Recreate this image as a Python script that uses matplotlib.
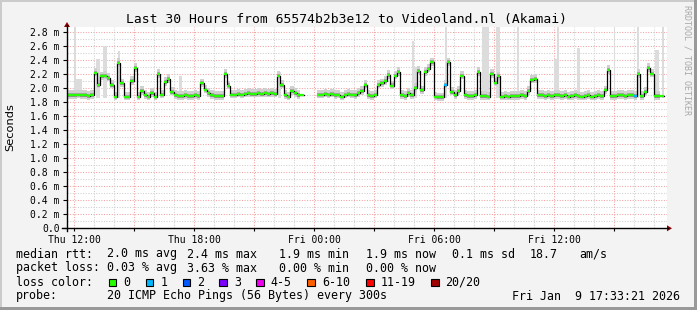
import matplotlib
matplotlib.use('Agg')
import matplotlib.pyplot as plt
import numpy as np
from matplotlib.lines import Line2D
from matplotlib.patches import Rectangle, Polygon

W, H = 697, 310
nan = float('nan')

# median rtt in ms, one value per 10 minutes, 30 hours
step_min = 10
median = [
    1.90, 1.90, 1.90, 1.91, 1.90, 1.90, 1.89, 1.90, 2.22, 2.05,
    2.17, 2.18, 2.15, 2.05, 1.88, 2.36, 2.07, 1.88, 1.88, 2.10,
    2.29, 1.88, 1.96, 1.90, 1.88, 1.93, 1.88, 2.20, 1.91, 2.09,
    2.13, 1.95, 1.90, 1.89, 1.89, 1.90, 1.89, 1.89, 1.90, 1.89,
    2.07, 1.98, 1.93, 1.90, 1.89, 1.89, 1.89, 2.20, 2.04, 1.91,
    1.91, 1.92, 1.91, 1.92, 1.93, 1.92, 1.92, 1.93, 1.92, 1.93,
    1.92, 1.93, 1.92, 2.18, 2.05, 1.90, 1.88, 1.96, 1.93, 1.90,
    1.90, nan, nan, nan, nan, 1.91, 1.91, 1.92, 1.91, 1.92,
    1.90, 1.91, 1.88, 1.91, 1.92, 1.91, 1.90, 1.93, 1.96, 2.05,
    1.90, 1.89, 1.91, 2.05, 2.07, 2.10, 2.19, 2.04, 2.18, 2.23,
    1.90, 1.89, 1.93, 1.90, 2.00, 2.25, 1.97, 2.23, 2.28, 2.37,
    1.88, 1.87, 1.87, 2.05, 2.37, 1.95, 1.90, 1.96, 2.18, 1.90,
    1.89, 1.89, 1.90, 2.23, 1.89, 1.89, 1.88, 2.20, 2.08, 2.17,
    1.88, 1.89, 1.88, 1.89, 1.89, 1.89, 1.90, 1.89, 1.96, 2.12,
    2.13, 1.90, 1.90, 1.89, 1.90, 1.89, 1.90, 1.90, 1.89, 1.90,
    1.88, 1.89, 1.90, 1.89, 1.88, 1.89, 1.90, 1.88, 1.89, 1.90,
    1.89, 1.97, 2.26, 1.89, 1.89, 1.90, 1.90, 1.89, 1.90, 1.90,
    1.89, 2.20, 1.89, 1.95, 2.29, 2.21, 1.89, 1.89, 1.89, nan,
]
# steps with packet loss (number of lost pings out of 20)
loss_steps = [113, 170]
loss_counts = [1, 1]

# tall light grey smoke (slowest ping) spikes: minutes from start, top in ms
peak_start = [20, 28, 88, 108, 153, 335, 632, 1035, 1035, 1133, 1245, 1288,
              1350, 1460, 1470, 1530, 1640, 1710, 1765, 1785]
peak_end = [27, 45, 98, 120, 160, 345, 642, 1040, 1050, 1141, 1265, 1298,
            1357, 1476, 1475, 1540, 1645, 1717, 1775, 1792]
peak_top = [2.87, 2.13, 2.42, 2.60, 2.54, 2.18, 2.24, 2.68, 2.30, 2.87, 2.87, 2.87,
            2.87, 2.42, 2.87, 2.57, 2.87, 2.87, 2.55, 2.87]

time_labels = ['Thu 12:00', 'Thu 18:00', 'Fri 00:00', 'Fri 06:00', 'Fri 12:00']
first_label_min = 21   # Thu 12:00 is 21 minutes after the left edge
span_min = 1800

loss_names = ['0', '1', '2', '3', '4-5', '6-10', '11-19', '20/20']
loss_colors = ['#26ff00', '#00b8ff', '#0059ff', '#7e00ff', '#ee00ee',
               '#ff5e00', '#ff0000', '#a10000']

mono = 'DejaVu Sans Mono'


def fx(x):
    return x / W


def fy(y):
    return 1 - y / H


fig = plt.figure(figsize=(W / 100, H / 100), dpi=100)
fig.patch.set_facecolor('#f3f3f3')

# frame
fig.add_artist(Rectangle((0, fy(2)), 1, 2 / H, transform=fig.transFigure, color='#cbcbcb', lw=0))
fig.add_artist(Rectangle((0, 0), 2 / W, 1, transform=fig.transFigure, color='#cbcbcb', lw=0))
fig.add_artist(Rectangle((fx(W - 3), 0), 3 / W, 1, transform=fig.transFigure, color='#999999', lw=0))
fig.add_artist(Rectangle((0, 0), 1, 3 / H, transform=fig.transFigure, color='#999999', lw=0))

x0, x1, yb, yt = 67, 667, 228.3, 27
ymax = (yb - yt) / 70.0
ax = fig.add_axes([fx(x0), fy(yb), (x1 - x0) / W, (yb - yt) / H])
ax.set_facecolor('white')
ax.set_xlim(0, span_min)
ax.set_ylim(0, ymax)
for s in ax.spines.values():
    s.set_visible(False)

# grid
dots = (0, (1, 1.5))
for v in np.arange(0.1, ymax, 0.1):
    major = int(round(v * 10)) % 2 == 0
    ax.axhline(v, color='#f4a0a0' if major else '#cfcfcf', lw=0.75, ls=dots, zorder=0)
for m in range(first_label_min, span_min, 60):
    major = (m - first_label_min) % 180 == 0
    ax.axvline(m, color='#f4a0a0' if major else '#cfcfcf', lw=0.75, ls=dots, zorder=0)

# data
med = np.array(median)
edges = np.arange(len(med) + 1) * step_min
med_e = np.append(med, med[-1])
for s, e, t in zip(peak_start, peak_end, peak_top):
    ax.fill_between([s, e], 1.86, t, color='#dcdcdc', lw=0, zorder=1)
ax.fill_between(edges, med_e - 0.05, med_e + 0.07, step='post', color='#d0d0d0', lw=0, zorder=2)
ax.fill_between(edges, med_e - 0.025, med_e + 0.03, step='post', color='#a4a4a4', lw=0, zorder=2)
ax.step(edges, med_e, where='post', color='black', lw=0.9, zorder=3)
cols = [loss_colors[0]] * len(med)
for i, c in zip(loss_steps, loss_counts):
    cols[i] = loss_colors[c]
ok = ~np.isnan(med)
ax.hlines(med[ok], edges[:-1][ok], edges[1:][ok], colors=np.array(cols)[ok], lw=1.6, zorder=4)

# ticks
yt_vals = np.arange(0, 2.81, 0.2)
ax.set_yticks(yt_vals)
ax.set_yticklabels(['0.0'] + ['%.1f m' % v for v in yt_vals[1:]], family=mono, fontsize=7)
xt = list(range(first_label_min, span_min, 180))
ax.set_xticks(xt)
ax.set_xticklabels([time_labels[i // 2] if i % 2 == 0 else '' for i in range(len(xt))],
                   family=mono, fontsize=7)
ax.tick_params(axis='y', length=3, width=0.8, pad=2.2, color='black')
ax.tick_params(axis='x', length=2.5, width=0.8, pad=2.2, color='black')

# axis lines with arrows
fig.add_artist(Line2D([fx(62), fx(668)], [fy(yb), fy(yb)], color='black', lw=1))
fig.add_artist(Line2D([fx(x0), fx(x0)], [fy(yb + 3), fy(25)], color='black', lw=1))
fig.add_artist(Polygon([(fx(667), fy(yb - 3)), (fx(672), fy(yb)), (fx(667), fy(yb + 3))],
                       closed=True, transform=fig.transFigure, color='#8b0000', lw=0))
fig.add_artist(Polygon([(fx(x0 - 3), fy(27)), (fx(x0), fy(22)), (fx(x0 + 3), fy(27))],
                       closed=True, transform=fig.transFigure, color='#8b0000', lw=0))

# texts
fig.text(fx(347), fy(19.5), 'Last 30 Hours from 65574b2b3e12 to Videoland.nl (Akamai)',
         family=mono, fontsize=9.4, ha='center', va='center')
fig.text(fx(10), fy(127.5), 'Seconds', family='DejaVu Sans', fontsize=8.2,
         rotation=90, ha='center', va='center')
fig.text(fx(687.5), fy(5), 'RRDTOOL / TOBI OETIKER', family=mono, fontsize=6,
         rotation=270, ha='center', va='top', color='#a8a8a8')

lf = 8.35
rows = [
    (257.5, [(16, 'median rtt:'), (107, '2.0 ms avg'), (187, '2.4 ms max'), (279, '1.9 ms min'),
             (366, '1.9 ms now'), (452, '0.1 ms sd'), (530, '18.7'), (579, 'am/s')]),
    (271.5, [(16, 'packet loss:'), (107, '0.03 % avg'), (187, '3.63 % max'), (279, '0.00 % min'),
             (366, '0.00 % now')]),
    (285.5, [(16, 'loss color:')]),
    (299.5, [(16, 'probe:'), (107, '20 ICMP Echo Pings (56 Bytes) every 300s')]),
]
for y, items in rows:
    for x, t in items:
        fig.text(fx(x), fy(y), t, family=mono, fontsize=lf, ha='left', va='baseline')
fig.text(fx(680), fy(299.5), 'Fri Jan  9 17:33:21 2026', family=mono, fontsize=lf,
         ha='right', va='baseline')

sq_x = [108.7, 145.7, 182.7, 219.3, 256, 307.3, 366, 431]
for sx, name, c in zip(sq_x, loss_names, loss_colors):
    fig.add_artist(Rectangle((fx(sx), fy(286)), 7.5 / W, 7.5 / H, transform=fig.transFigure,
                             facecolor=c, edgecolor='black', lw=0.8))
    fig.text(fx(sx + 14.5), fy(285.5), name, family=mono, fontsize=lf, ha='left', va='baseline')

fig.savefig('out.png', dpi=100, facecolor=fig.get_facecolor())
